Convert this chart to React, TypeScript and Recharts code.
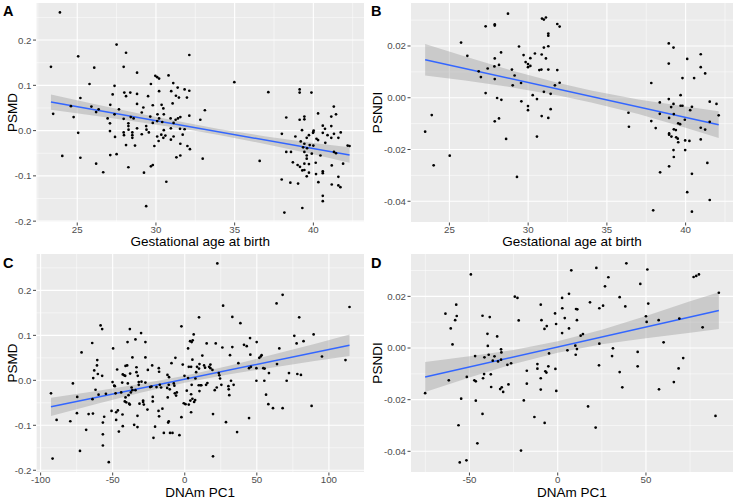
import { ComposedChart, Scatter, Line, Area, XAxis, YAxis, CartesianGrid } from 'recharts';

// points: [x, y]
const pointsA: [number, number][] = [
  [23.33, 0.141], [23.9, 0.261], [23.47, 0.037], [24.05, -0.056], [25.06, 0.164], [24.6, 0.054], [24.77, 0.03],
  [25.06, -0.005], [25.2, 0.072], [25.2, -0.06], [25.78, 0.103], [25.9, 0.053], [26.08, 0.139], [26.2, 0.041],
  [26.2, -0.073], [26.36, 0.047], [26.65, -0.092], [26.93, 0.027], [27.1, 0.057], [27.08, 0.016], [27.08, -0.001],
  [27.1, -0.054], [27.25, 0.08], [27.37, 0.099], [27.37, 0.036], [27.4, -0.014], [27.5, -0.052], [27.5, 0.19],
  [27.65, 0.047], [27.95, 0.141], [27.99, 0.084], [27.95, 0.026], [27.95, -0.004], [27.97, -0.01], [28.1, 0.172],
  [28.1, 0.076], [28.1, -0.032], [28.25, 0.016], [28.25, 0.01], [28.25, -0.081], [28.26, 0.002], [28.37, 0.084],
  [28.4, 0.03], [28.5, -0.004], [28.5, -0.01], [28.5, -0.016], [28.58, 0.027], [28.67, -0.033], [28.8, 0.081],
  [28.8, 0.128], [28.8, 0.005], [28.8, 0.059], [29.1, 0.04], [29.1, -0.008], [29.2, 0.051], [29.24, -0.093],
  [29.38, 0.01], [29.38, -0.167], [29.4, 0.002], [29.5, 0.076], [29.55, -0.004], [29.64, 0.031], [29.68, 0.103],
  [29.68, -0.079], [29.8, -0.076], [29.8, 0.056], [29.8, 0.017], [29.9, -0.034], [29.96, 0.121], [30.08, 0.118],
  [30.2, 0.115], [30.1, 0.036], [30.08, 0.021], [30.08, -0.013], [30.2, 0.087], [30.2, 0.027], [30.17, -0.023],
  [30.34, -0.009], [30.36, 0.057], [30.4, 0.019], [30.47, 0.049], [30.5, 0.036], [30.5, 0.001], [30.47, -0.016],
  [30.66, -0.113], [30.6, -0.011], [30.8, 0.122], [30.93, 0.027], [30.97, 0.087], [30.95, 0.005], [30.95, -0.02],
  [31.06, 0.06], [31.1, 0.105], [31.12, -0.013], [31.12, 0.017], [31.25, 0.024], [31.27, 0.077], [31.3, -0.059],
  [31.38, 0.095], [31.4, 0.027], [31.46, 0.073], [31.53, 0.004], [31.55, -0.055], [31.55, 0.03], [31.55, -0.029],
  [31.7, -0.009], [31.82, 0.091], [31.82, 0.003], [31.97, 0.073], [32.0, -0.034], [32.12, 0.167], [32.12, 0.088],
  [32.12, 0.033], [32.16, -0.041], [32.82, 0.024], [32.97, -0.062], [33.11, 0.045], [34.98, 0.107], [36.59, -0.067],
  [37.14, 0.085], [37.99, -0.108], [38.0, -0.007], [38.16, -0.181], [38.28, 0.029], [38.28, -0.047], [38.54, -0.115],
  [38.58, -0.047], [38.7, -0.07], [38.86, -0.013], [39.0, -0.076], [39.03, -0.117], [39.13, 0.091], [39.13, 0.084],
  [39.13, 0.024], [39.15, -0.08], [39.2, -0.024], [39.28, 0.001], [39.3, -0.171], [39.3, -0.088], [39.35, -0.037],
  [39.43, 0.031], [39.43, 0.025], [39.43, -0.047], [39.43, -0.073], [39.43, -0.087], [39.43, -0.029], [39.58, -0.016],
  [39.58, -0.055], [39.58, -0.062], [39.58, -0.101], [39.6, -0.039], [39.72, -0.01], [39.72, -0.074], [39.72, -0.093],
  [39.77, -0.032], [39.88, 0.084], [39.9, -0.051], [39.98, -0.005], [40.0, -0.033], [40.0, -0.003], [40.02, 0.0],
  [40.15, -0.071], [40.17, -0.096], [40.2, -0.018], [40.3, 0.038], [40.3, -0.021], [40.32, -0.114], [40.45, -0.055],
  [40.6, 0.011], [40.6, -0.09], [40.6, -0.094], [40.6, -0.144], [40.6, -0.156], [40.6, -0.005], [40.74, 0.004],
  [40.76, -0.027], [40.9, -0.01], [41.14, 0.031], [41.14, 0.01], [41.14, -0.016], [41.17, -0.077], [41.17, -0.119],
  [41.3, 0.053], [41.31, -0.007], [41.31, -0.047], [41.44, 0.036], [41.44, -0.05], [41.59, -0.016], [41.59, -0.102],
  [41.59, -0.121], [41.72, -0.125], [41.74, -0.004], [41.89, -0.073], [42.18, -0.033], [42.3, -0.034],
];

const pointsB: [number, number][] = [
  [23.46, -0.0131], [23.88, -0.0067], [24.0, -0.0261], [25.02, -0.0224], [25.74, 0.0213], [26.14, 0.0162],
  [26.86, 0.0102], [27.0, 0.008], [27.3, 0.0276], [27.3, 0.0018], [27.43, 0.0113], [27.88, 0.0284], [27.88, 0.0279],
  [27.88, 0.0152], [27.86, 0.0121], [27.88, 0.0072], [27.88, -0.0091], [28.03, -0.0001], [28.15, 0.0127],
  [28.15, -0.008], [28.28, 0.0175], [28.3, -0.0008], [28.6, -0.0159], [28.72, 0.0325], [28.97, 0.0109],
  [29.02, 0.0048], [29.14, 0.0086], [29.29, -0.0306], [29.42, 0.0198], [29.55, 0.0057], [29.57, -0.0014],
  [29.71, 0.0165], [29.84, 0.0138], [29.99, 0.013], [29.99, 0.0118], [29.99, -0.0032], [29.99, -0.0048],
  [30.14, 0.0123], [30.14, 0.0153], [30.29, 0.001], [30.43, 0.0171], [30.56, -0.0005], [30.56, -0.015],
  [30.71, 0.0107], [30.84, 0.0109], [30.86, 0.0167], [30.86, -0.0071], [30.88, 0.0306], [31.0, 0.0302],
  [31.0, 0.0194], [31.0, 0.0023], [31.13, 0.031], [31.13, 0.0152], [31.28, 0.0248], [31.28, 0.024], [31.28, 0.0199],
  [31.28, 0.0109], [31.28, -0.0078], [31.43, 0.0015], [31.43, -0.0044], [31.7, 0.0048], [31.85, 0.0285],
  [31.85, 0.0107], [32.0, 0.0275], [32.0, 0.0058], [36.37, -0.0058], [36.4, -0.0112], [37.82, 0.0057],
  [37.82, -0.009], [37.94, -0.0435], [38.1, -0.0117], [38.36, -0.0018], [38.36, -0.0062], [38.38, -0.0288],
  [38.93, 0.021], [38.93, 0.0132], [38.93, -0.0005], [38.95, -0.0078], [38.95, -0.0138], [38.95, -0.0143],
  [38.95, -0.0265], [39.08, -0.0036], [39.1, -0.015], [39.23, 0.0194], [39.23, -0.0024], [39.25, -0.0063],
  [39.25, -0.0122], [39.23, -0.0202], [39.25, -0.0229], [39.38, -0.0125], [39.4, -0.0153], [39.5, -0.0158],
  [39.53, -0.0172], [39.53, -0.0099], [39.65, -0.0102], [39.68, 0.001], [39.68, -0.0031], [39.8, 0.0076],
  [39.8, -0.0031], [39.95, -0.0085], [39.97, -0.0165], [39.97, -0.0202], [40.1, 0.015], [40.1, -0.0365],
  [40.24, -0.0167], [40.29, -0.0048], [40.4, -0.0035], [40.4, -0.0294], [40.4, -0.044], [40.54, 0.0076],
  [40.96, 0.0168], [40.96, 0.0118], [40.96, -0.0116], [40.96, -0.0161], [41.24, 0.0094], [41.24, -0.0123],
  [41.38, -0.0252], [41.53, -0.0015], [41.53, -0.0093], [41.53, -0.0395], [41.96, -0.0024], [42.1, -0.0068],
];

const pointsC: [number, number][] = [
  [-92.8, -0.029], [-91.7, -0.174], [-88.9, -0.088], [-79.4, -0.091], [-77.6, -0.007], [-74.6, -0.037],
  [-74.8, -0.073], [-72.7, -0.157], [-71.6, 0.062], [-68.4, -0.11], [-66.7, -0.075], [-64.2, 0.083], [-64.0, -0.042],
  [-63.7, -0.074], [-63.5, 0.005], [-62.8, 0.022], [-61.9, -0.021], [-60.9, 0.033], [-60.7, 0.045], [-60.3, 0.014],
  [-59.8, -0.032], [-58.4, 0.122], [-57.3, 0.114], [-57.3, 0.01], [-56.8, -0.094], [-56.8, -0.12], [-56.8, -0.145],
  [-55.9, -0.081], [-54.7, -0.03], [-52.7, -0.182], [-50.8, -0.068], [-50.1, -0.004], [-49.7, 0.071],
  [-49.0, -0.012], [-48.5, -0.013], [-48.0, -0.029], [-47.6, -0.088], [-47.6, -0.071], [-46.9, 0.024],
  [-46.4, -0.067], [-45.7, -0.114], [-44.1, -0.027], [-43.4, -0.005], [-43.2, -0.076], [-43.0, -0.102],
  [-43.0, 0.013], [-42.0, 0.011], [-41.6, -0.047], [-41.3, 0.01], [-41.1, 0.032], [-41.1, -0.038], [-40.6, -0.049],
  [-39.7, 0.085], [-39.95, 0.033], [-39.5, -0.007], [-39.0, -0.033], [-38.6, -0.052], [-38.1, 0.114], [-37.9, 0.015],
  [-38.1, -0.054], [-37.4, -0.027], [-36.9, -0.016], [-36.3, 0.051], [-36.3, -0.022], [-35.1, -0.099],
  [-34.2, 0.091], [-34.2, -0.022], [-33.5, 0.029], [-33.5, 0.018], [-32.8, -0.104], [-32.6, 0.01], [-32.8, -0.079],
  [-31.9, -0.01], [-31.9, -0.004], [-31.4, -0.052], [-30.3, 0.105], [-30.0, -0.003], [-28.9, -0.048],
  [-28.9, -0.045], [-28.4, -0.054], [-27.3, 0.085], [-27.3, 0.051], [-27.3, -0.005], [-25.9, -0.065], [-25.6, 0.023],
  [-24.0, -0.015], [-23.1, -0.014], [-22.6, 0.033], [-22.2, -0.037], [-22.2, -0.047], [-21.7, -0.128],
  [-20.6, -0.103], [-19.6, -0.015], [-18.2, -0.068], [-18.0, 0.027], [-17.8, 0.019], [-17.8, -0.08], [-17.3, -0.01],
  [-16.4, -0.016], [-15.5, -0.063], [-14.5, -0.117], [-12.2, -0.017], [-12.0, 0.012], [-11.8, -0.038],
  [-11.5, -0.094], [-11.1, -0.01], [-11.1, -0.091], [-10.9, 0.007], [-10.4, -0.02], [-10.2, -0.117], [-9.2, 0.038],
  [-8.5, -0.117], [-7.6, -0.007], [-7.2, -0.012], [-6.9, -0.029], [-6.5, 0.05], [-6.0, -0.034], [-5.5, -0.027],
  [-3.7, -0.122], [-2.3, -0.082], [-2.3, 0.12], [-1.4, 0.035], [-0.7, -0.051], [-0.2, 0.01], [0.5, -0.053],
  [1.4, -0.023], [2.3, 0.071], [2.3, 0.005], [2.8, 0.03], [2.8, -0.054], [3.7, 0.087], [3.9, -0.045], [4.4, 0.03],
  [4.4, -0.071], [4.4, -0.031], [4.8, 0.085], [4.8, -0.01], [5.3, 0.046], [5.3, -0.041], [5.5, 0.089], [6.2, 0.102],
  [6.5, -0.048], [7.2, -0.044], [7.4, 0.004], [7.9, 0.018], [8.5, 0.03], [9.7, -0.011], [9.9, 0.14], [9.9, 0.026],
  [10.2, 0.036], [10.2, -0.024], [10.9, -0.011], [11.5, -0.011], [12.2, 0.055], [13.4, 0.033], [14.1, 0.028],
  [14.8, -0.01], [15.2, 0.082], [15.7, -0.006], [16.9, 0.03], [17.8, 0.035], [17.8, 0.027], [19.2, 0.023],
  [19.6, -0.075], [19.6, -0.169], [20.8, -0.022], [21.5, 0.082], [22.2, -0.016], [22.6, 0.26], [23.6, 0.016],
  [24.0, 0.011], [24.5, 0.004], [25.4, -0.01], [26.1, 0.073], [26.6, 0.166], [28.6, -0.093], [30.3, -0.013],
  [30.5, -0.02], [30.9, -0.033], [31.4, 0.056], [32.1, -0.001], [33.0, 0.074], [33.0, 0.141], [33.9, -0.01],
  [36.3, -0.115], [37.2, 0.038], [38.6, 0.127], [41.1, 0.079], [43.0, 0.076], [44.6, 0.027], [44.6, -0.084],
  [45.3, 0.094], [45.5, 0.057], [45.9, 0.03], [49.7, -0.001], [49.7, 0.027], [49.9, 0.085], [51.7, 0.05],
  [52.7, 0.053], [53.3, 0.056], [54.5, 0.027], [55.2, -0.001], [55.4, 0.026], [56.4, -0.032], [58.0, -0.053],
  [58.4, 0.016], [61.2, -0.062], [63.7, 0.171], [64.0, 0.036], [65.6, 0.071], [67.9, 0.19], [67.9, -0.062],
  [70.7, -0.001], [72.3, 0.016], [76.0, 0.099], [77.6, 0.082], [78.1, 0.014], [79.4, 0.14], [80.6, 0.012],
  [82.4, 0.087], [88.0, -0.057], [89.4, 0.102], [95.2, 0.053], [111.5, 0.045], [114.3, 0.163],
];

const pointsD: [number, number][] = [
  [-75.1, -0.0175], [-63.6, 0.0133], [-61.7, -0.0125], [-60.6, 0.0076], [-59.6, 0.0014], [-58.1, 0.0108],
  [-57.5, 0.0168], [-57.2, 0.0124], [-56.2, -0.0299], [-55.5, -0.0443], [-54.7, -0.0196], [-51.5, -0.0112],
  [-51.7, -0.0435], [-49.2, 0.0285], [-46.8, -0.0031], [-47.2, -0.0125], [-46.4, -0.0129], [-46.4, -0.0204],
  [-45.5, -0.0369], [-42.6, 0.0125], [-42.6, -0.0255], [-42.3, -0.0117], [-41.7, -0.0101], [-41.5, -0.0036],
  [-39.8, 0.0055], [-39.6, 0.0008], [-39.1, -0.0026], [-38.5, 0.012], [-37.9, -0.0102], [-37.7, -0.0151],
  [-36.8, -0.0049], [-35.8, -0.0032], [-34.3, 0.0045], [-33.8, -0.0052], [-32.6, -0.0159], [-32.1, -0.0005],
  [-31.9, -0.0017], [-32.1, -0.0045], [-31.7, -0.0152], [-30.9, -0.017], [-28.5, -0.0065], [-27.9, -0.0141],
  [-26.4, -0.0059], [-24.3, 0.0199], [-22.8, 0.0194], [-22.1, 0.0107], [-19.2, -0.0203], [-20.8, -0.0397],
  [-17.5, -0.0088], [-17.5, -0.0138], [-13.2, -0.0267], [-11.5, -0.0062], [-11.5, -0.008], [-9.6, 0.0168],
  [-9.2, 0.0108], [-9.6, -0.0117], [-9.6, -0.0161], [-7.5, 0.0074], [-7.4, -0.029], [-7.0, -0.009], [-6.4, -0.0095],
  [-6.2, 0.0085], [-5.3, -0.0071], [-4.9, -0.0021], [-1.5, 0.0134], [-1.3, -0.0081], [-0.9, 0.0093], [-0.8, -0.0166],
  [2.5, 0.0058], [2.5, 0.0194], [2.6, 0.0154], [4.0, 0.0116], [5.5, -0.0009], [6.4, 0.021], [6.4, 0.0076],
  [7.7, 0.0301], [10.0, 0.0009], [10.2, -0.0026], [10.4, 0.0151], [10.9, 0.0108], [11.1, 0.015], [10.9, -0.0004],
  [13.0, 0.0048], [14.3, 0.0054], [17.2, -0.0226], [18.3, 0.0177], [21.5, -0.0308], [21.9, 0.031], [23.4, -0.0067],
  [23.6, 0.0154], [23.6, 0.0017], [25.7, 0.0164], [26.8, 0.0239], [28.7, 0.0274], [30.8, -0.0031], [31.3, -0.0001],
  [35.1, 0.0197], [35.1, -0.0093], [36.6, -0.0152], [38.3, 0.0161], [38.9, 0.0328], [45.3, -0.0015],
  [45.3, -0.0071], [46.8, 0.0248], [50.0, 0.0123], [50.4, 0.0101], [50.8, 0.0304], [51.3, 0.0172], [57.2, 0.0108],
  [57.4, -0.016], [60.0, 0.0022], [65.8, -0.0132], [68.5, -0.0079], [68.9, 0.0114], [71.1, -0.0039], [77.0, 0.0275],
  [78.5, 0.0279], [80.0, 0.0285], [82.1, 0.008], [89.4, -0.0263], [91.3, 0.0214],
];

// fitted lines (end points) and confidence band: [x, low, high]
const fitA: [number, number][] = [[23.33, 0.063], [42.3, -0.054]];
const bandA: [number, number, number][] = [
  [23.33, 0.046, 0.08], [26, 0.0334, 0.0594], [29, 0.0184, 0.0374], [32, 0.0022, 0.0166],
  [34, -0.0095, 0.0037], [37, -0.0299, -0.0129], [40, -0.0524, -0.0274], [42.3, -0.071, -0.037],
];
const fitB: [number, number][] = [[23.46, 0.0147], [42.1, -0.0104]];
const bandB: [number, number, number][] = [
  [23.46, 0.0086, 0.0208], [26, 0.0067, 0.0159], [29, 0.004, 0.0104], [32, 0.0008, 0.0056],
  [34, -0.0018, 0.0028], [37, -0.0063, -0.0007], [40, -0.0116, -0.0034], [42.1, -0.0156, -0.0052],
];
const fitC: [number, number][] = [[-92.8, -0.059], [114.3, 0.078]];
const bandC: [number, number, number][] = [
  [-92.8, -0.0795, -0.0385], [-60, -0.0513, -0.0233], [-30, -0.0269, -0.0079], [0, -0.0054, 0.0102],
  [30, 0.0128, 0.0318], [60, 0.0281, 0.0561], [90, 0.043, 0.081], [114.3, 0.054, 0.102],
];
const fitD: [number, number][] = [[-75.1, -0.0112], [91.3, 0.0145]];
const bandD: [number, number, number][] = [
  [-75.1, -0.017, -0.0054], [-50, -0.0114, -0.0032], [-25, -0.0062, -0.0008], [0, -0.0018, 0.0026],
  [25, 0.0015, 0.0071], [50, 0.0038, 0.0124], [75, 0.0059, 0.0181], [91.3, 0.0074, 0.0216],
];

const gestTicks = [25, 30, 35, 40];
const gestMinor = [22.5, 27.5, 32.5, 37.5, 42.5];
const pcTicksC = [-100, -50, 0, 50, 100];
const pcTicksD = [-50, 0, 50];
const pcMinor = [-75, -25, 25, 75];
const psmdTicks = [-0.2, -0.1, 0, 0.1, 0.2];
const psmdMinor = [-0.15, -0.05, 0.05, 0.15, 0.25];
const psndiTicks = [-0.04, -0.02, 0, 0.02];
const psndiMinor = [-0.03, -0.01, 0.01, 0.03];

const FONT = '"Liberation Sans", Arial, Helvetica, sans-serif';

type PanelProps = {
  left: number;
  top: number;
  width: number;
  height: number;
  marginTop: number;
  plotHeight: number;
  yAxisWidth: number;
  points: [number, number][];
  fit: [number, number][];
  band: [number, number, number][];
  xDomain: [number, number];
  yDomain: [number, number];
  xTicks: number[];
  xMinor: number[];
  yTicks: number[];
  yMinor: number[];
  yDigits: number;
  xTitle: string;
  yTitle: string;
  xTitleOffset: number;
  yTitleOffset: number;
  tag: string;
  tagLeft: number;
  tagTop: number;
};

const dot = (props: any) => <circle cx={props.cx} cy={props.cy} r={1.35} fill="#000000" />;

function Panel(p: PanelProps) {
  const pts = p.points.map(([x, y]) => ({ x, y }));
  const fitData = p.fit.map(([x, y]) => ({ x, fit: y }));
  const bandData = p.band.map(([x, lo, hi]) => ({ x, band: [lo, hi] }));
  const xAxisHeight = p.height - p.marginTop - p.plotHeight;
  const tickStyle = { fill: '#4D4D4D', fontSize: 9.7, fontFamily: FONT };

  return (
    <div style={{ position: 'absolute', left: p.left, top: p.top, width: p.width, height: p.height }}>
      <ComposedChart
        width={p.width}
        height={p.height}
        margin={{ top: p.marginTop, right: 3.5, bottom: 0, left: 0 }}
      >
        <CartesianGrid fill="#EBEBEB" stroke="#FFFFFF" strokeWidth={1.1} />
        <CartesianGrid xAxisId="minor" yAxisId="minor" stroke="#FFFFFF" strokeWidth={0.5} />
        <XAxis
          dataKey="x"
          type="number"
          domain={p.xDomain}
          allowDataOverflow
          ticks={p.xTicks}
          height={xAxisHeight}
          axisLine={false}
          tickSize={3}
          tickLine={{ stroke: '#333333', strokeWidth: 0.9 }}
          tick={tickStyle}
          tickMargin={0.5}
          label={{ value: p.xTitle, position: 'insideBottom', offset: p.xTitleOffset, fill: '#000000', fontSize: 13.5, fontFamily: FONT }}
        />
        <XAxis xAxisId="minor" dataKey="x" type="number" domain={p.xDomain} allowDataOverflow ticks={p.xMinor} hide />
        <YAxis
          type="number"
          domain={p.yDomain}
          allowDataOverflow
          ticks={p.yTicks}
          width={p.yAxisWidth}
          axisLine={false}
          tickSize={3}
          tickLine={{ stroke: '#333333', strokeWidth: 0.9 }}
          tick={tickStyle}
          tickMargin={1.5}
          tickFormatter={(v: number) => v.toFixed(p.yDigits)}
          label={{
            value: p.yTitle,
            angle: -90,
            position: 'insideLeft',
            offset: p.yTitleOffset,
            fill: '#000000',
            fontSize: 13.5,
            fontFamily: FONT,
            style: { textAnchor: 'middle' },
          }}
        />
        <YAxis yAxisId="minor" type="number" domain={p.yDomain} allowDataOverflow ticks={p.yMinor} hide />
        <Area
          data={bandData}
          dataKey="band"
          type="linear"
          stroke="none"
          fill="#999999"
          fillOpacity={0.4}
          isAnimationActive={false}
        />
        <Scatter data={pts} dataKey="y" shape={dot} isAnimationActive={false} />
        <Line
          data={fitData}
          dataKey="fit"
          type="linear"
          stroke="#3366FF"
          strokeWidth={1.5}
          dot={false}
          activeDot={false}
          isAnimationActive={false}
        />
      </ComposedChart>
      <div
        style={{
          position: 'absolute',
          left: p.tagLeft,
          top: p.tagTop,
          fontFamily: FONT,
          fontWeight: 'bold',
          fontSize: 14.5,
          lineHeight: '14.5px',
          color: '#000000',
        }}
      >
        {p.tag}
      </div>
    </div>
  );
}

export default function App() {
  return (
    <div style={{ position: 'absolute', left: 0, top: 0, width: 737, height: 501, background: '#FFFFFF' }}>
      <Panel
        left={0} top={0} width={368} height={250} marginTop={2.5} plotHeight={220} yAxisWidth={36}
        points={pointsA} fit={fitA} band={bandA}
        xDomain={[22.38, 43.25]} yDomain={[-0.203, 0.283]}
        xTicks={gestTicks} xMinor={gestMinor} yTicks={psmdTicks} yMinor={psmdMinor} yDigits={1}
        xTitle="Gestational age at birth" yTitle="PSMD" xTitleOffset={4} yTitleOffset={12}
        tag="A" tagLeft={3} tagTop={3.5}
      />
      <Panel
        left={368} top={0} width={369} height={250} marginTop={2.5} plotHeight={220} yAxisWidth={42.5}
        points={pointsB} fit={fitB} band={bandB}
        xDomain={[22.53, 43.04]} yDomain={[-0.0482, 0.0368]}
        xTicks={gestTicks} xMinor={gestMinor} yTicks={psndiTicks} yMinor={psndiMinor} yDigits={2}
        xTitle="Gestational age at birth" yTitle="PSNDI" xTitleOffset={4} yTitleOffset={9}
        tag="B" tagLeft={3} tagTop={3.5}
      />
      <Panel
        left={0} top={250} width={368} height={251} marginTop={3.5} plotHeight={219} yAxisWidth={36}
        points={pointsC} fit={fitC} band={bandC}
        xDomain={[-103.2, 124.7]} yDomain={[-0.205, 0.282]}
        xTicks={pcTicksC} xMinor={pcMinor} yTicks={psmdTicks} yMinor={psmdMinor} yDigits={1}
        xTitle="DNAm PC1" yTitle="PSMD" xTitleOffset={4} yTitleOffset={12}
        tag="C" tagLeft={3} tagTop={6}
      />
      <Panel
        left={368} top={250} width={369} height={251} marginTop={3.5} plotHeight={219} yAxisWidth={42.5}
        points={pointsD} fit={fitD} band={bandD}
        xDomain={[-83.4, 99.6]} yDomain={[-0.0482, 0.0366]}
        xTicks={pcTicksD} xMinor={pcMinor} yTicks={psndiTicks} yMinor={psndiMinor} yDigits={2}
        xTitle="DNAm PC1" yTitle="PSNDI" xTitleOffset={4} yTitleOffset={9}
        tag="D" tagLeft={3} tagTop={6}
      />
    </div>
  );
}
